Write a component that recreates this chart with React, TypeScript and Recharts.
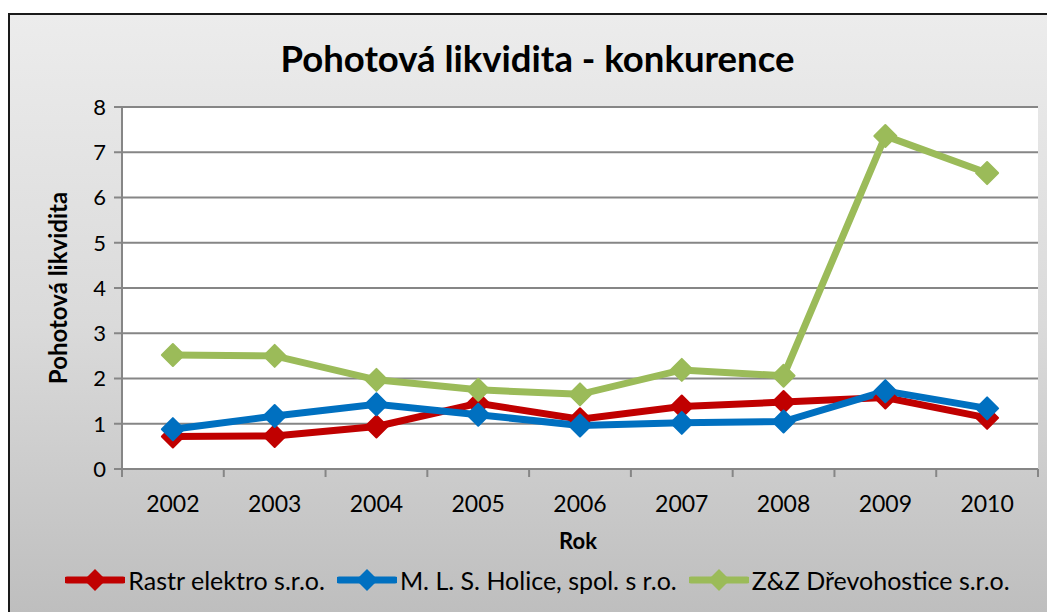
import React from 'react';
import { LineChart, Line, XAxis, YAxis, CartesianGrid } from 'recharts';

const years = ['2002', '2003', '2004', '2005', '2006', '2007', '2008', '2009', '2010'];
const rastr = [0.72, 0.73, 0.94, 1.45, 1.1, 1.38, 1.48, 1.58, 1.13];
const mls = [0.88, 1.17, 1.43, 1.2, 0.96, 1.02, 1.05, 1.72, 1.34];
const zz = [2.52, 2.5, 1.97, 1.75, 1.65, 2.19, 2.06, 7.36, 6.54];
const yTicks = [0, 1, 2, 3, 4, 5, 6, 7, 8];

const seriesDefs = [
  { key: 'rastr', name: 'Rastr elektro s.r.o.', color: '#C00000' },
  { key: 'mls', name: 'M. L. S. Holice, spol. s r.o.', color: '#0070C0' },
  { key: 'zz', name: 'Z&Z Dřevohostice s.r.o.', color: '#9BBB59' },
];

const data = years.map((y, i) => ({ year: y, rastr: rastr[i], mls: mls[i], zz: zz[i] }));

const FONT = 'Lato, "Open Sans", sans-serif';
const AXIS = '#868686';
const CHART_W = 1050;
const CHART_H = 600;
const PLOT_LEFT = 112;
const PLOT_TOP = 92;
const PLOT_RIGHT = 1028;
const PLOT_BOTTOM = 454;
const BAND = (PLOT_RIGHT - PLOT_LEFT) / years.length;

const Diamond = (props: any) => {
  const { cx, cy, stroke } = props;
  if (cx == null || cy == null) return null;
  const r = 11;
  return (
    <polygon
      points={`${cx},${cy - r} ${cx + r},${cy} ${cx},${cy + r} ${cx - r},${cy}`}
      fill={stroke}
      stroke={stroke}
      strokeWidth={2}
      strokeLinejoin="round"
    />
  );
};

const XTick = (props: any) => {
  const { x, y, payload, index } = props;
  const half = BAND / 2;
  return (
    <g>
      <line x1={x - half} x2={x - half} y1={PLOT_BOTTOM} y2={PLOT_BOTTOM + 8} stroke={AXIS} strokeWidth={2} />
      {index === years.length - 1 && (
        <line x1={x + half} x2={x + half} y1={PLOT_BOTTOM} y2={PLOT_BOTTOM + 8} stroke={AXIS} strokeWidth={2} />
      )}
      <text x={x} y={y + 35} textAnchor="middle" fontFamily={FONT} fontSize={23} fill="#000">
        {payload.value}
      </text>
    </g>
  );
};

const LegendIcon = ({ color }: { color: string }) => (
  <svg width={60} height={24} style={{ display: 'block' }}>
    <line x1={2} x2={58} y1={12} y2={12} stroke={color} strokeWidth={7} strokeLinecap="round" />
    <polygon points="30,1 41,12 30,23 19,12" fill={color} />
  </svg>
);

export default function App() {
  return (
    <div
      style={{
        position: 'relative',
        width: 1060,
        height: 620,
        marginTop: 5,
        border: '2px solid #1a1a1a',
        background: 'linear-gradient(to bottom, #ececec 0%, #dadada 50%, #bcbcbc 100%)',
        fontFamily: FONT,
        overflow: 'hidden',
      }}
    >
      <div
        style={{
          position: 'absolute',
          left: 0,
          width: 1055,
          top: 21,
          textAlign: 'center',
          fontSize: 36.5,
          fontWeight: 700,
          color: '#000',
          lineHeight: '44px',
        }}
      >
        Pohotová likvidita - konkurence
      </div>
      <div
        style={{
          position: 'absolute',
          left: 48 - 150,
          top: 273 - 15,
          width: 300,
          textAlign: 'center',
          transform: 'rotate(-90deg)',
          fontSize: 24,
          fontWeight: 700,
          color: '#000',
          lineHeight: '30px',
        }}
      >
        Pohotová likvidita
      </div>
      <div
        style={{
          position: 'absolute',
          left: 468,
          width: 200,
          top: 512,
          textAlign: 'center',
          fontSize: 22,
          fontWeight: 700,
        }}
      >
        Rok
      </div>
      <div style={{ position: 'absolute', left: 0, top: 0 }}>
        <LineChart
          width={CHART_W}
          height={CHART_H}
          data={data}
          margin={{ top: PLOT_TOP, right: CHART_W - PLOT_RIGHT, left: 0, bottom: 0 }}
        >
          <CartesianGrid
            vertical={false}
            stroke={AXIS}
            strokeWidth={2}
            fill="#ffffff"
            fillOpacity={1}
          />
          <XAxis
            dataKey="year"
            scale="band"
            height={CHART_H - PLOT_BOTTOM}
            axisLine={{ stroke: AXIS, strokeWidth: 2 }}
            tickLine={false}
            tick={<XTick />}
            interval={0}
          />
          <YAxis
            width={PLOT_LEFT}
            domain={[0, 8]}
            ticks={yTicks}
            axisLine={{ stroke: AXIS, strokeWidth: 2 }}
            tickLine={{ stroke: AXIS, strokeWidth: 2 }}
            tickSize={8}
            tickMargin={8}
            tick={{ fontFamily: FONT, fontSize: 22, fill: '#000' }}
          />
          {seriesDefs.map((s) => (
            <Line
              key={s.key}
              dataKey={s.key}
              name={s.name}
              stroke={s.color}
              strokeWidth={7}
              dot={<Diamond />}
              activeDot={false}
              isAnimationActive={false}
            />
          ))}
        </LineChart>
      </div>
      <div
        style={{
          position: 'absolute',
          left: 0,
          top: 550,
          width: 1055,
          display: 'flex',
          alignItems: 'center',
          justifyContent: 'center',
          gap: 12,
          fontSize: 25,
          color: '#000',
          boxSizing: 'border-box',
        }}
      >
        {seriesDefs.map((s) => (
          <div key={s.key} style={{ display: 'flex', alignItems: 'center', gap: 3 }}>
            <LegendIcon color={s.color} />
            <span>{s.name}</span>
          </div>
        ))}
      </div>
    </div>
  );
}
